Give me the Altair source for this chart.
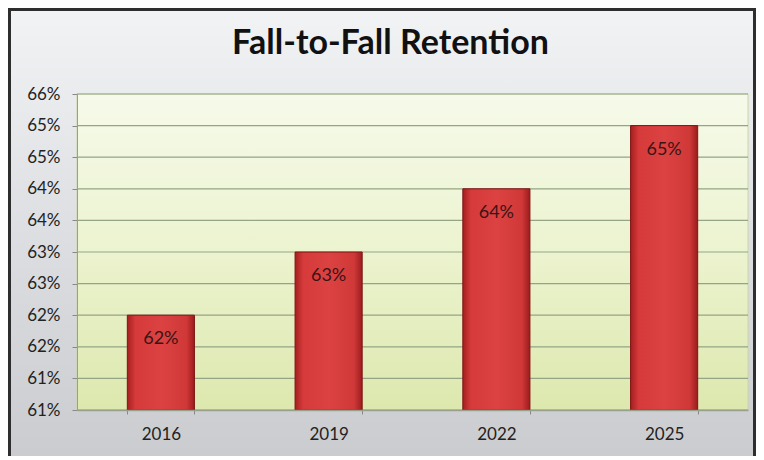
import altair as alt
import pandas as pd

# ---- data ----
years = ["2016", "2019", "2022", "2025"]
retention = [62, 63, 64, 65]
bar_labels = ["62%", "63%", "64%", "65%"]
tick_values = [60.5, 61.0, 61.5, 62.0, 62.5, 63.0, 63.5, 64.0, 64.5, 65.0, 65.5]
tick_labels = ["61%", "61%", "62%", "62%", "63%", "63%", "64%", "64%", "65%", "65%", "66%"]
title_text = "Fall-to-Fall Retention"

W, H = 671, 316
PAD = {"left": 69, "top": 86, "right": 8, "bottom": 46}

df = pd.DataFrame({"year": years, "value": retention, "label": bar_labels})
grid_df = pd.DataFrame({"value": tick_values})

t0 = tick_values[0]
step = tick_values[1] - tick_values[0]
labs_js = "[" + ",".join(f"'{l}'" for l in tick_labels) + "]"
label_expr = f"{labs_js}[round((datum.value - {t0}) / {step})]"

FONT = "Lato"

yscale = alt.Scale(domain=[60.5, 65.5], nice=False, zero=False)
xscale = alt.Scale(paddingInner=0.6, paddingOuter=0.3)

xaxis = alt.Axis(labelAngle=0, labelFont=FONT, labelFontSize=17,
                 labelColor="#222222", labelPadding=12,
                 tickBand="extent", tickSize=4, tickColor="#888888",
                 domainColor="#9aa08f", domainWidth=1.5, grid=False, zindex=1)
yaxis = alt.Axis(values=tick_values, labelExpr=label_expr,
                 labelOverlap=False, labelBound=False, labelFlush=False,
                 labelFont=FONT, labelFontSize=17, labelColor="#222222",
                 labelPadding=12, tickSize=5, tickColor="#888888",
                 domainColor="#9aa08f", grid=False, zindex=1)

def xenc():
    return alt.X("year:N", sort=years, title=None, scale=xscale, axis=xaxis)

def yenc():
    return alt.Y("value:Q", scale=yscale, title=None, axis=yaxis)

# outer frame/background
frame = alt.Chart(pd.DataFrame({"k": [0]})).mark_rect(
    clip=False,
    fill=alt.LinearGradient(
        gradient="linear", x1=0, x2=0, y1=0, y2=1,
        stops=[alt.GradientStop(color="#f2f3f5", offset=0),
               alt.GradientStop(color="#dcdee1", offset=0.5),
               alt.GradientStop(color="#c9cbce", offset=1)]),
    stroke="#2e2e2e", strokeWidth=3,
).encode(
    x=alt.value(-PAD["left"] + 1.5), x2=alt.value(W + PAD["right"] - 1.5),
    y=alt.value(-PAD["top"] + 1.5), y2=alt.value(H + PAD["bottom"] + 10),
)

title = alt.Chart(pd.DataFrame({"t": [title_text]})).mark_text(
    font=FONT, fontSize=34, fontWeight="bold", color="#111111",
    align="center", baseline="middle", clip=False,
).encode(x=alt.value(W / 2 - 22), y=alt.value(-50), text="t:N")

# plot area background
plotbg = alt.Chart(pd.DataFrame({"k": [0]})).mark_rect(
    fill=alt.LinearGradient(
        gradient="linear", x1=0, x2=0, y1=0, y2=1,
        stops=[alt.GradientStop(color="#f6faea", offset=0),
               alt.GradientStop(color="#ecf3cf", offset=0.5),
               alt.GradientStop(color="#dde8ae", offset=1)]),
    stroke="#c9d6a8", strokeWidth=1,
).encode(x=alt.value(0), x2=alt.value(W), y=alt.value(0), y2=alt.value(H))

grid = alt.Chart(grid_df).mark_rule(color="#93a585", strokeWidth=1.2).encode(
    y=yenc()
)

bars = alt.Chart(df).mark_bar(
    fill=alt.LinearGradient(
        gradient="linear", x1=0, x2=1, y1=0, y2=0,
        stops=[alt.GradientStop(color="#a51f1f", offset=0),
               alt.GradientStop(color="#d63a3a", offset=0.12),
               alt.GradientStop(color="#dc4242", offset=0.5),
               alt.GradientStop(color="#d03838", offset=0.88),
               alt.GradientStop(color="#9c1c1c", offset=1)]),
    stroke="#7e1414", strokeWidth=1,
).encode(x=xenc(), y=yenc(), y2=alt.Y2(datum=60.5))

texts = alt.Chart(df).mark_text(
    dy=24, font=FONT, fontSize=18, color="#3a1414", baseline="middle"
).encode(x=xenc(), y=yenc(), text="label:N")

chart = alt.layer(frame, title, plotbg, grid, bars, texts).properties(
    width=W, height=H,
    autosize=alt.AutoSizeParams(type="none"),
    padding=PAD,
    background="#d8dadd",
).configure_view(stroke=None).configure_axis(labelOverlap=False)

chart.save("out.html", embed_options={"renderer": "svg", "actions": False})
